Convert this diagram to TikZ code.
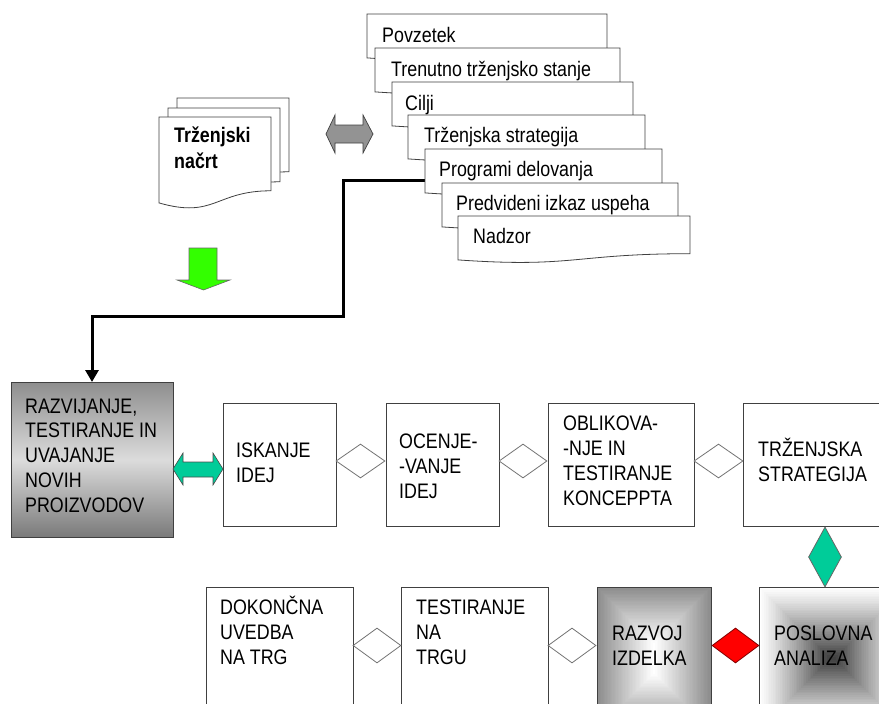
\documentclass[tikz,border=0pt]{standalone}
\usepackage{fontspec}
\setmainfont{Liberation Sans}[FakeStretch=0.85]
\usetikzlibrary{arrows.meta,shapes.geometric,calc}
\definecolor{tealA}{HTML}{00CC99}
\definecolor{limeA}{HTML}{33FF00}
\definecolor{edgeA}{HTML}{404040}
\definecolor{grayA}{HTML}{8C8C8C}
\definecolor{grayD}{HTML}{404040}
\definecolor{gTop}{HTML}{8E8E8E}
\definecolor{gMid}{HTML}{DCDCDC}
\definecolor{gBot}{HTML}{7A7A7A}
\newcommand\docshape[4]{%
  \draw[pagestyle] (#1,#2) -- ({#1+#3},#2) -- ({#1+#3},{#2+0.802*#4})
    .. controls ({#1+0.5*#3},{#2+0.802*#4}) and ({#1+0.5*#3},{#2+1.108*#4}) ..
    (#1,{#2+0.934*#4}) -- cycle;}
\tikzset{
  pagestyle/.style={draw=edgeA, fill=white, line width=0.8pt},
  box/.style={rectangle, draw=edgeA, line width=0.9pt, fill=white, inner sep=0pt, outer sep=0pt},
  lbl/.style={anchor=base west, align=left, inner sep=0pt, font=\fontsize{21}{25}\selectfont},
  dia/.style={diamond, draw=black!55, fill=white, inner sep=0pt, line width=0.8pt},
}
\begin{document}
\begin{tikzpicture}[x=1pt,y=-1pt]
\useasboundingbox (0,0) rectangle (879,704);
\clip (0,0) rectangle (879,704);

% ---- Trzenjski nacrt document stack
\docshape{177}{98}{112}{92}
\docshape{168}{108}{112}{92}
\docshape{159}{117}{112}{92}
\node[lbl, font=\bfseries\fontsize{21}{26}\selectfont] (doct) at (174,168) {Trženjski\\načrt};

% ---- gray double arrow
\draw[fill=gray!85, draw=edgeA, line width=0.7pt]
  (326,134) -- (335,115) -- (335,125) -- (363,125) -- (363,115) -- (373,134)
  -- (363,153) -- (363,143) -- (335,143) -- (335,153) -- cycle;

% ---- green down arrow
\draw[fill=limeA, draw=black!60, line width=0.6pt]
  (189,248) -- (217,248) -- (217,280) -- (230,280) -- (203.5,290) -- (177,280) -- (189,280) -- cycle;

% ---- boxes
\node[box, minimum width=162pt, minimum height=155pt, top color=gTop, bottom color=gBot, middle color=gMid] (razv) at (92,459.5) {};
\node[box, minimum width=113pt, minimum height=123pt] (isk) at (279.5,464.5) {};
\node[box, minimum width=113pt, minimum height=123pt] (ocen) at (442.5,464.5) {};
\node[box, minimum width=146pt, minimum height=123pt] (obl) at (621,464.5) {};
\node[box, minimum width=147pt, minimum height=123pt] (trz) at (816.5,464.5) {};
\node[box, minimum width=147pt, minimum height=143pt] (dok) at (279.5,658.5) {};
\node[box, minimum width=147pt, minimum height=143pt] (tes) at (474.5,658.5) {};
% gradient fills
\foreach \i in {0,...,40} {
  \pgfmathsetmacro\d{\i*57/41}
  \pgfmathsetmacro\c{100*\i/40}
  \fill[white!\c!grayA] ({597+\d},{587+\d}) rectangle ({711-\d},{730-\d});
}
\foreach \i in {0,...,40} {
  \pgfmathsetmacro\d{\i*71.5/41}
  \pgfmathsetmacro\c{100*(\i/40)^1.15}
  \fill[grayD!\c!white] ({759+\d},{587+\d}) rectangle ({906-\d},{730-\d});
}
\node[box, fill=none, minimum width=114pt, minimum height=143pt] (raz) at (654,658.5) {};
\node[box, fill=none, minimum width=147pt, minimum height=143pt] (pos) at (832.5,658.5) {};

% ---- box texts (anchor = baseline of last line)
\node[lbl, font=\fontsize{21}{24.75}\selectfont] (trazv) at (25,512) {RAZVIJANJE,\\TESTIRANJE IN\\UVAJANJE\\NOVIH\\PROIZVODOV};
\node[lbl] (tisk) at (236,482) {ISKANJE\\IDEJ};
\node[lbl] (tocen) at (399,498) {OCENJE-\\-VANJE\\IDEJ};
\node[lbl] (tobl) at (563,505) {OBLIKOVA-\\-NJE IN\\TESTIRANJE\\KONCEPPTA};
\node[lbl] (ttrz) at (758,481) {TRŽENJSKA\\STRATEGIJA};
\node[lbl] (tdok) at (220,664) {DOKONČNA\\UVEDBA\\NA TRG};
\node[lbl] (ttes) at (416,664) {TESTIRANJE\\NA\\TRGU};
\node[lbl] (traz) at (612,665) {RAZVOJ\\IZDELKA};
\node[lbl] (tpos) at (774,665) {POSLOVNA\\ANALIZA};

% ---- diamonds
\node[dia, minimum width=49pt, minimum height=34pt] (d1) at (360.5,461) {};
\node[dia, minimum width=48pt, minimum height=34pt] (d2) at (523,461) {};
\node[dia, minimum width=49pt, minimum height=34pt] (d3) at (718.5,461) {};
\node[dia, minimum width=48pt, minimum height=35pt] (d4) at (377,645.5) {};
\node[dia, minimum width=48pt, minimum height=35pt] (d5) at (572,645.5) {};
\node[dia, fill=red, draw=red!50!black, minimum width=47pt, minimum height=35pt] (d6) at (735.5,645.5) {};
\node[dia, fill=tealA, draw=black!60, minimum width=33pt, minimum height=60pt] (d7) at (825,557) {};

% ---- teal double arrow
\draw[fill=tealA, draw=black!70, line width=0.6pt]
  (173,469) -- (183,453) -- (183,462) -- (213,462) -- (213,453) -- (223,469)
  -- (213,485) -- (213,477) -- (183,477) -- (183,485) -- cycle;

% ---- black connector
\coordinate (p5w) at (425,180.5);
\draw[line width=3pt, -{Triangle[length=12pt,width=13pt]}]
  (p5w) -- (343,180.5) |- ($(razv.north)+(0,-66)$) -- (razv.north);

% ---- page stack
\docshape{367}{14}{240}{47}
\node[lbl] (t1) at (382,42.5) {Povzetek};
\docshape{375}{48}{245}{47}
\node[lbl] (t2) at (391,76) {Trenutno trženjsko stanje};
\docshape{392}{82}{241}{47}
\node[lbl] (t3) at (405,110) {Cilji};
\docshape{408}{115}{237}{47}
\node[lbl] (t4) at (424,142) {Trženjska strategija};
\docshape{425}{149}{237}{47}
\node[lbl] (t5) at (439,176) {Programi delovanja};
\docshape{442}{183}{236}{47}
\node[lbl] (t6) at (456,210) {Predvideni izkaz uspeha};
\docshape{458}{216}{232}{47}
\node[lbl] (t7) at (473,243) {Nadzor};
\end{tikzpicture}
\end{document}
